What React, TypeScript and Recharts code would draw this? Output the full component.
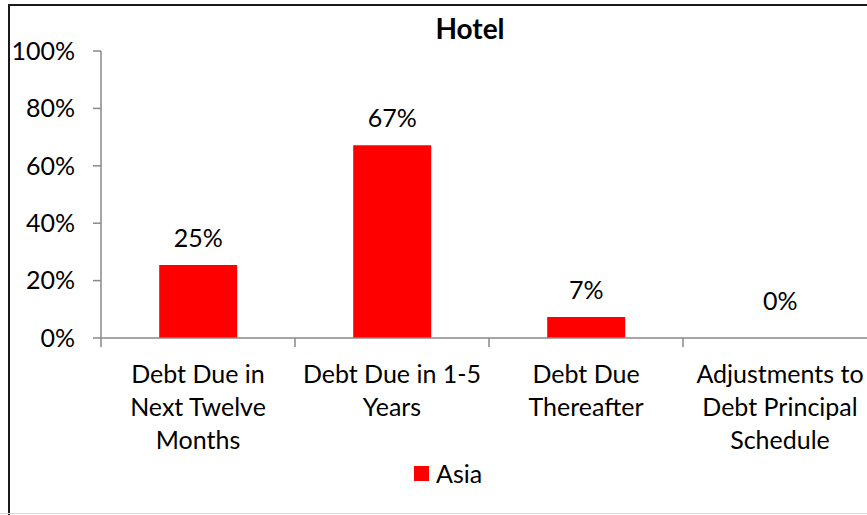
import React from 'react';
import { BarChart, Bar, XAxis, YAxis, Legend, LabelList } from 'recharts';

const categories = [
  'Debt Due in\nNext Twelve\nMonths',
  'Debt Due in 1-5\nYears',
  'Debt Due\nThereafter',
  'Adjustments to\nDebt Principal\nSchedule',
];
const asiaValues = [0.254, 0.672, 0.073, 0];
const yTicks = [0, 0.2, 0.4, 0.6, 0.8, 1];

const data = categories.map((name, i) => ({ name, asia: asiaValues[i] }));

const FONT = 'Lato, sans-serif';
const AXIS = '#898989';
const RED = '#FF0000';

const pct = (v: number) => `${Math.round(v * 100)}%`;

// excel puts the tick marks between categories, so draw them at the band edges
const CategoryTick = (props: any) => {
  const { x, y, payload, index, visibleTicksCount } = props;
  const half = payload.offset ?? 0;
  const lines = String(payload.value).split('\n');
  const edges = [x - half];
  if (index === visibleTicksCount - 1) edges.push(x + half);
  return (
    <g>
      {edges.map((ex, i) => (
        <line key={i} x1={ex} x2={ex} y1={y} y2={y + 9} stroke={AXIS} strokeWidth={1.5} />
      ))}
      <text x={x} y={y} textAnchor="middle" fill="#000" fontSize={25} fontFamily={FONT}>
        {lines.map((line, i) => (
          <tspan key={i} x={x} dy={i === 0 ? 45 : 33}>{line}</tspan>
        ))}
      </text>
    </g>
  );
};

const BarValueLabel = (props: any) => {
  const { x, y, width, value } = props;
  // excel lifts the label of an empty bar a bit higher
  const lift = Number(value) === 0 ? 28 : 18;
  return (
    <text x={x + width / 2} y={y - lift} textAnchor="middle" fill="#000" fontSize={25} fontFamily={FONT}>
      {pct(Number(value))}
    </text>
  );
};

const LegendBox = () => (
  <div style={{ display: 'flex', alignItems: 'center', height: 30, fontFamily: FONT, fontSize: 25, color: '#000' }}>
    <span style={{ width: 15, height: 15, background: RED, marginRight: 7, display: 'inline-block' }} />
    <span>Asia</span>
  </div>
);

export default function App() {
  return (
    <div style={{ position: 'absolute', left: 0, top: 0, width: 867, height: 515, overflow: 'hidden', background: '#fff' }}>
      <div style={{ position: 'absolute', left: 8, top: 4, width: 1000, height: 600, borderLeft: '2px solid #1a1a1a', borderTop: '2px solid #1a1a1a' }} />
      <div style={{ position: 'absolute', left: 0, top: 513, width: 867, height: 1, background: '#d9d9d9' }} />
      <div style={{ position: 'absolute', left: 370, top: 13, width: 200, textAlign: 'center', fontFamily: FONT, fontWeight: 'bold', fontSize: 28, lineHeight: '30px', color: '#000' }}>
        Hotel
      </div>
      <div style={{ position: 'absolute', left: 0, top: 0 }}>
        <BarChart width={940} height={515} data={data} margin={{ top: 51, right: 63, left: 11, bottom: 27 }} barCategoryGap="30%">
          <XAxis
            dataKey="name"
            interval={0}
            height={120}
            tickLine={false}
            tickSize={0}
            tickMargin={0}
            axisLine={{ stroke: AXIS, strokeWidth: 1.5 }}
            tick={<CategoryTick />}
          />
          <YAxis
            domain={[0, 1]}
            ticks={yTicks}
            tickFormatter={pct}
            width={90}
            tickSize={8}
            tickMargin={18}
            axisLine={{ stroke: AXIS, strokeWidth: 1.5 }}
            tickLine={{ stroke: AXIS, strokeWidth: 1.5 }}
            tick={{ fill: '#000', fontSize: 25, fontFamily: FONT }}
          />
          <Legend
            verticalAlign="bottom"
            wrapperStyle={{ left: 414, width: 120, height: 30 }}
            content={() => <LegendBox />}
          />
          <Bar dataKey="asia" name="Asia" fill={RED} minPointSize={0.01} isAnimationActive={false}>
            <LabelList dataKey="asia" content={<BarValueLabel />} />
          </Bar>
        </BarChart>
      </div>
    </div>
  );
}
